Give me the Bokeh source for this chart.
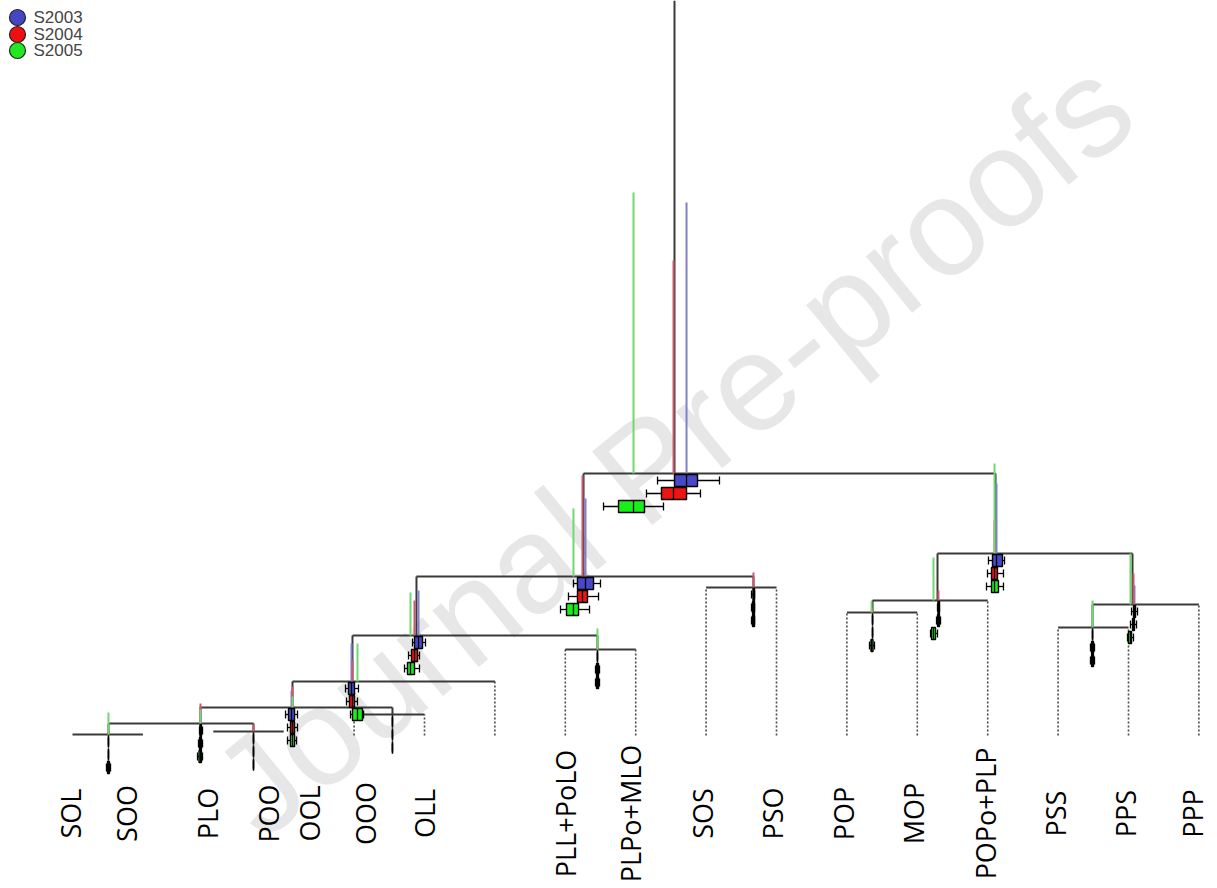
import math
from bokeh.plotting import figure
from bokeh.models import ColumnDataSource, Range1d
from bokeh.core.properties import value
from bokeh.embed import file_html
from bokeh.resources import INLINE

# ---------------- data ----------------
leaves = ["SOL", "SOO", "PLO", "POO", "OOL", "OOO", "OLL", "PLL+PoLO", "PLPo+MLO",
          "SOS", "PSO", "POP", "MOP", "POPo+PLP", "PSS", "PPS", "PPP"]
label_pos = [-0.03, 0.77, 1.92, 2.78, 3.37, 4.16, 5.00, 7.00, 7.93,
             8.95, 9.94, 10.95, 11.95, 12.97, 13.96, 14.96, 15.91]

# internal nodes (children: int = leaf index, str = node name)
node_names = ["n1", "n2", "n3", "n4", "n5", "n6", "n7", "n8", "n9", "n10",
              "n11", "n12", "n13", "n14", "n15", "root"]
node_left = [0, 2, "n1", 4, "n3", "n5", 7, "n6", 9, "n8", 11, "n11", 14, "n13", "n12", "n10"]
node_right = [1, 3, "n2", 5, "n4", 6, 8, "n7", 10, "n9", 12, 13, 15, 16, "n14", "n15"]
node_x = [0.511, 2.571, 1.818, 4.545, 3.125, 3.977, 7.457, 4.886, 9.673, 7.259,
          11.364, 12.287, 14.489, 15.057, 13.111, 8.551]
node_h = [1, 4, 12, 21, 28, 54, 86, 100, 148, 159, 123, 135, 108, 131, 182, 262]

series = ["S2003", "S2004", "S2005"]

s2003_lo = [0.511, 2.571, 1.804, 4.545, 3.026, 3.878, 7.457, 4.830, 9.645, 7.116, 11.364, 12.287, 14.489, 15.043, 13.011, 8.310]
s2003_q1 = [0.511, 2.571, 1.811, 4.545, 3.068, 3.920, 7.457, 4.858, 9.666, 7.173, 11.364, 12.294, 14.489, 15.071, 13.068, 8.551]
s2003_med = [0.511, 2.571, 1.818, 4.545, 3.111, 3.963, 7.457, 4.915, 9.673, 7.287, 11.364, 12.301, 14.489, 15.085, 13.125, 8.722]
s2003_q3 = [0.511, 2.571, 1.832, 4.545, 3.154, 4.006, 7.457, 4.972, 9.688, 7.401, 11.364, 12.315, 14.489, 15.100, 13.210, 8.878]
s2003_hi = [0.511, 2.571, 1.847, 4.545, 3.196, 4.062, 7.457, 5.014, 9.688, 7.500, 11.364, 12.315, 14.489, 15.128, 13.239, 9.190]
s2003_top = [1, 4, 29, 21, 45, 92, 86, 145, 148, 237, 123, 135, 108, 150, 252, 533]

s2004_lo = [0.511, 2.571, 1.790, 4.545, 3.054, 3.892, 7.429, 4.773, 9.645, 7.045, 11.364, 12.273, 14.460, 15.028, 12.997, 8.153]
s2004_q1 = [0.511, 2.571, 1.804, 4.545, 3.096, 3.934, 7.443, 4.815, 9.659, 7.173, 11.364, 12.287, 14.475, 15.057, 13.054, 8.366]
s2004_med = [0.511, 2.571, 1.818, 4.545, 3.125, 3.977, 7.457, 4.858, 9.673, 7.244, 11.364, 12.301, 14.489, 15.071, 13.097, 8.537]
s2004_q3 = [0.511, 2.571, 1.832, 4.545, 3.154, 4.006, 7.472, 4.901, 9.688, 7.315, 11.364, 12.315, 14.503, 15.085, 13.139, 8.722]
s2004_hi = [0.511, 2.571, 1.847, 4.545, 3.196, 4.048, 7.486, 4.929, 9.688, 7.472, 11.364, 12.330, 14.517, 15.114, 13.224, 8.920]
s2004_top = [5, 11, 32, 21, 49, 75, 90, 135, 163, 260, 127, 145, 108, 162, 215, 475]

s2005_lo = [0.483, 2.571, 1.776, 4.545, 3.054, 3.949, 7.429, 4.716, 9.645, 6.932, 11.321, 12.188, 14.460, 14.986, 12.983, 7.543]
s2005_q1 = [0.497, 2.571, 1.797, 4.545, 3.096, 3.977, 7.443, 4.758, 9.659, 7.017, 11.343, 12.202, 14.475, 15.000, 13.054, 7.756]
s2005_med = [0.511, 2.571, 1.818, 4.545, 3.125, 4.048, 7.457, 4.801, 9.673, 7.116, 11.350, 12.230, 14.489, 15.028, 13.097, 7.969]
s2005_q3 = [0.525, 2.571, 1.832, 4.545, 3.154, 4.119, 7.472, 4.858, 9.688, 7.188, 11.371, 12.259, 14.503, 15.043, 13.153, 8.125]
s2005_hi = [0.540, 2.571, 1.847, 4.545, 3.182, 4.134, 7.486, 4.929, 9.688, 7.344, 11.392, 12.287, 14.517, 15.071, 13.224, 8.395]
s2005_top = [23, 4, 26, 21, 39, 92, 107, 143, 148, 227, 134, 178, 135, 182, 272, 543]

# ---------------- layout helpers (page pixel -> data) ----------------
W, H = 1214, 886
def X(px):
    return (px - 72) / 70.4
def Y(py):
    return 735 - py

p = figure(width=W, height=H, output_backend="svg", toolbar_location=None,
           x_range=Range1d(X(0), X(W)), y_range=Range1d(Y(H), Y(0)),
           min_border=0, outline_line_color=None, background_fill_color="white")
p.axis.visible = False
p.grid.visible = False

# faint watermark
p.text(x=[X(672)], y=[Y(446)], text=["Journal Pre-proofs"], angle=0.685,
       text_font=value("Liberation Sans"), text_font_size="138px",
       text_color="#e7e7e7", text_align="center", text_baseline="middle")

# ---------------- dendrogram ----------------
pos = {}
hgt = {}
for i, nm in enumerate(node_names):
    pos[nm] = node_x[i]
    hgt[nm] = node_h[i]

def cx(c):
    return float(c) if isinstance(c, int) else pos[c]

sx0, sx1, sy0, sy1 = [], [], [], []
dx, dy0, dy1 = [], [], []
for i, nm in enumerate(node_names):
    h = node_h[i]
    l, r = node_left[i], node_right[i]
    sx0.append(cx(l)); sx1.append(cx(r)); sy0.append(h); sy1.append(h)
    for c in (l, r):
        if isinstance(c, int):
            if c >= 4:
                dx.append(float(c)); dy0.append(0); dy1.append(h)
        else:
            sx0.append(pos[c]); sx1.append(pos[c]); sy0.append(hgt[c]); sy1.append(h)
# root stem to the top
sx0.append(pos["root"]); sx1.append(pos["root"]); sy0.append(hgt["root"]); sy1.append(Y(0))

p.segment(x0=dx, y0=dy0, x1=dx, y1=dy1, line_color="#4a4a4a", line_width=1.6,
          line_dash="2 2")
p.segment(x0=sx0, y0=sy0, x1=sx1, y1=sy1, line_color="#3a3a3a", line_width=2)

stats = {
    "S2003": (s2003_lo, s2003_q1, s2003_med, s2003_q3, s2003_hi, s2003_top),
    "S2004": (s2004_lo, s2004_q1, s2004_med, s2004_q3, s2004_hi, s2004_top),
    "S2005": (s2005_lo, s2005_q1, s2005_med, s2005_q3, s2005_hi, s2005_top),
}
line_col = {"S2003": "#8080cc", "S2004": "#c85a70", "S2005": "#70d870"}
fill_col = {"S2003": "#4848c8", "S2004": "#ee1414", "S2005": "#18ee18"}
legend_fill = {"S2003": "#4646c4", "S2004": "#ee1010", "S2005": "#22e822"}

# coloured stems (at medians)
for s in series:
    lo, q1, med, q3, hi, top = stats[s]
    p.segment(x0=med, y0=node_h, x1=med, y1=top, line_color=line_col[s], line_width=2)

# horizontal box plots under each node
for k, s in enumerate(series):
    lo, q1, med, q3, hi, top = stats[s]
    yc = [h - 7 - 13 * k for h in node_h]
    src = ColumnDataSource(dict(lo=lo, q1=q1, med=med, q3=q3, hi=hi, yc=yc,
                                yt=[y + 6 for y in yc], yb=[y - 6 for y in yc],
                                ct=[y + 4 for y in yc], cb=[y - 4 for y in yc]))
    p.segment(x0="lo", y0="yc", x1="hi", y1="yc", source=src, line_color="black", line_width=1.3)
    p.segment(x0="lo", y0="cb", x1="lo", y1="ct", source=src, line_color="black", line_width=1.3)
    p.segment(x0="hi", y0="cb", x1="hi", y1="ct", source=src, line_color="black", line_width=1.3)
    p.quad(left="q1", right="q3", bottom="yb", top="yt", source=src,
           fill_color=fill_col[s], line_color="black", line_width=1.4)
    p.segment(x0="med", y0="yb", x1="med", y1="yt", source=src, line_color="black", line_width=1.3)

# leaf labels
p.text(x=label_pos, y=[Y(813)] * len(leaves), text=leaves, angle=math.pi / 2,
       text_font=value("Open Sans"), text_font_size="27px", text_color="black",
       text_align="center", text_baseline="middle")

# legend (drawn manually)
lg_y = [Y(17), Y(34), Y(50)]
p.scatter(x=[X(17)] * 3, y=lg_y, size=16, marker="circle",
          fill_color=[legend_fill[s] for s in series], line_color="#222222", line_width=1.2)
p.text(x=[X(33)] * 3, y=lg_y, text=series, text_font=value("Liberation Sans"),
       text_font_size="17px", text_color="#444444", text_align="left", text_baseline="middle")

open("out.html", "w").write(file_html(p, INLINE))
